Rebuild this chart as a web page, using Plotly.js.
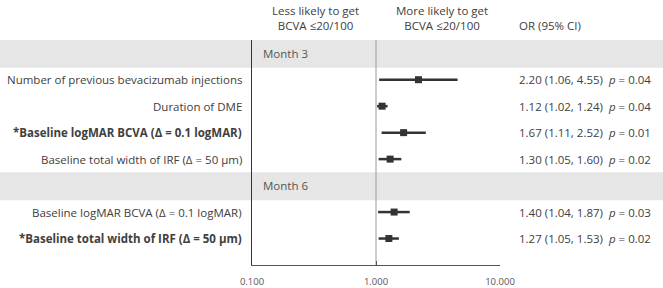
<!DOCTYPE html>
<html>
<head>
<meta charset="utf-8">
<script src="https://cdn.plot.ly/plotly-3.0.1.min.js"></script>
<style>
  html, body { margin: 0; padding: 0; background: #fff; }
  #chart { width: 663px; height: 288px; }
</style>
</head>
<body>
<div id="chart"></div>
<script>
// Forest plot rows, top to bottom. Section header rows carry no estimate.
const sections = ["Month 3", "Month 6"];
const rowLabels = [
  "Month 3",
  "Number of previous bevacizumab injections",
  "Duration of DME",
  "*Baseline logMAR BCVA (Δ = 0.1 logMAR)",
  "Baseline total width of IRF (Δ = 50 μm)",
  "Month 6",
  "Baseline logMAR BCVA (Δ = 0.1 logMAR)",
  "*Baseline total width of IRF (Δ = 50 μm)"
];
const boldRows = [false, false, false, true, false, false, false, true];
const oddsRatio = [null, 2.20, 1.12, 1.67, 1.30, null, 1.40, 1.27];
const ciLow     = [null, 1.06, 1.02, 1.11, 1.05, null, 1.04, 1.05];
const ciHigh    = [null, 4.55, 1.24, 2.52, 1.60, null, 1.87, 1.53];
const pValues   = [null, "0.04", "0.04", "0.01", "0.02", null, "0.03", "0.02"];
const tickValues = [0.1, 1, 10];
const tickLabels = ["0.100", "1.000", "10.000"];

const FONT = "'Open Sans', 'Noto Sans', sans-serif";
const TEXT = "#404040";
const MARK = "#333333";
const FS = 11.5;

// px -> paper x for a plot area spanning 252..500 px
const L = 252, R = 500;
const px = v => (v - L) / (R - L);

const estIdx = rowLabels.map((_, i) => i).filter(i => oddsRatio[i] !== null);

const trace = {
  type: "scatter",
  mode: "markers",
  x: estIdx.map(i => oddsRatio[i]),
  y: estIdx,
  marker: { symbol: "square", size: 7, color: MARK },
  error_x: {
    type: "data",
    symmetric: false,
    array: estIdx.map(i => ciHigh[i] - oddsRatio[i]),
    arrayminus: estIdx.map(i => oddsRatio[i] - ciLow[i]),
    thickness: 2.5,
    width: 0,
    color: MARK
  },
  hoverinfo: "skip",
  showlegend: false
};

const shapes = [];
const annotations = [];

rowLabels.forEach((lab, i) => {
  if (sections.includes(lab)) {
    shapes.push({
      type: "rect", xref: "paper", yref: "y",
      x0: px(0), x1: px(663), y0: i - 0.5, y1: i + 0.55,
      fillcolor: "#e6e6e6", line: { width: 0 }, layer: "below"
    });
    annotations.push({
      xref: "paper", yref: "y", x: px(261), y: i, xanchor: "left", yanchor: "middle",
      text: lab, showarrow: false, font: { family: FONT, size: FS, color: "#555" }
    });
  } else {
    annotations.push({
      xref: "paper", yref: "y", x: px(244), y: i, xanchor: "right", yanchor: "middle",
      text: boldRows[i] ? "<b>" + lab + "</b>" : lab,
      showarrow: false, font: { family: FONT, size: FS, color: TEXT }
    });
    annotations.push({
      xref: "paper", yref: "y", x: px(517), y: i, xanchor: "left", yanchor: "middle",
      text: oddsRatio[i].toFixed(2) + " (" + ciLow[i].toFixed(2) + ", " + ciHigh[i].toFixed(2) +
            ")  <i>p</i> = " + pValues[i],
      showarrow: false, font: { family: FONT, size: FS, color: TEXT }
    });
  }
});

// line of no effect
shapes.push({
  type: "line", xref: "x", yref: "paper", x0: 1, x1: 1, y0: 0, y1: 1,
  line: { color: "#9a9a9a", width: 1 }, layer: "below"
});

// column headers
annotations.push(
  { xref: "paper", yref: "paper", x: px(315), y: 1, yshift: 5, xanchor: "center", yanchor: "bottom",
    text: "Less likely to get<br>BCVA ≤20/100", showarrow: false,
    font: { family: FONT, size: FS, color: TEXT } },
  { xref: "paper", yref: "paper", x: px(442), y: 1, yshift: 5, xanchor: "center", yanchor: "bottom",
    text: "More likely to get<br>BCVA ≤20/100", showarrow: false,
    font: { family: FONT, size: FS, color: TEXT } },
  { xref: "paper", yref: "paper", x: px(517), y: 1, yshift: 5, xanchor: "left", yanchor: "bottom",
    text: "OR (95% CI)", showarrow: false,
    font: { family: FONT, size: FS, color: TEXT } }
);

const layout = {
  width: 663, height: 288,
  margin: { l: L, r: 663 - R, t: 40, b: 23, pad: 0 },
  paper_bgcolor: "#fff", plot_bgcolor: "rgba(0,0,0,0)",
  xaxis: {
    type: "log", range: [-1, 1],
    tickvals: tickValues, ticktext: tickLabels,
    ticks: "inside", ticklen: 4, tickcolor: "#555", tickwidth: 1,
    ticklabelstandoff: 8,
    showline: true, linecolor: "#555", linewidth: 1,
    showgrid: false, zeroline: false,
    tickfont: { family: FONT, size: 9.5, color: "#555" }
  },
  yaxis: {
    range: [rowLabels.length, -0.5],
    showticklabels: false, ticks: "",
    showline: true, linecolor: "#333", linewidth: 1,
    showgrid: false, zeroline: false
  },
  shapes: shapes,
  annotations: annotations
};

Plotly.newPlot("chart", [trace], layout, { displayModeBar: false, staticPlot: true });
</script>
</body>
</html>
